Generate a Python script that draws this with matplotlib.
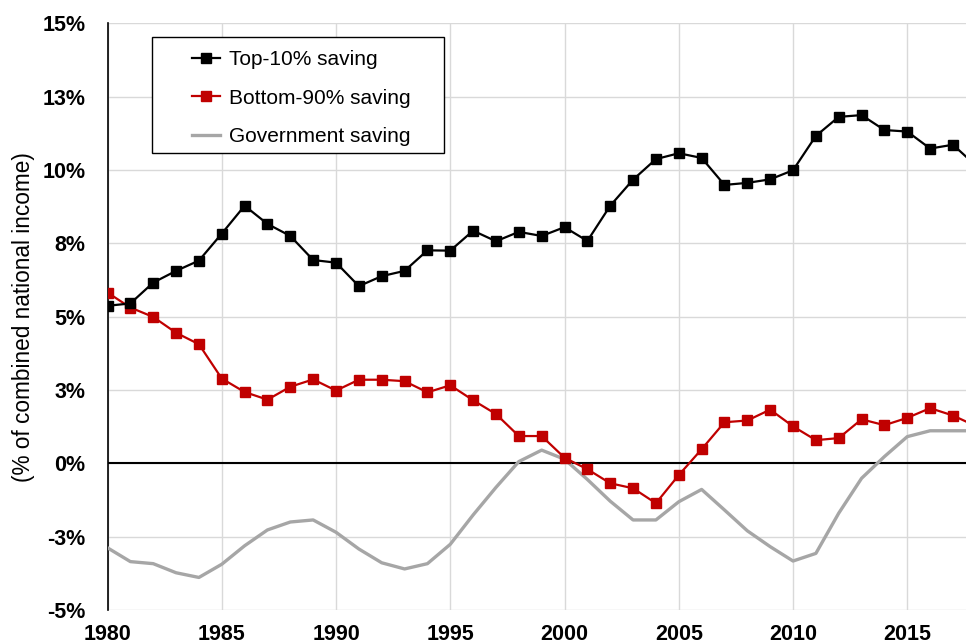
import matplotlib
matplotlib.use("Agg")
import matplotlib.pyplot as plt
from matplotlib.patches import Rectangle

plt.rcParams['font.family'] = ['Liberation Sans', 'DejaVu Sans']

years = list(range(1980, 2019))

top10 = [5.37, 5.45, 6.16, 6.56, 6.91, 7.83, 8.78, 8.16, 7.75, 6.93,
         6.84, 6.04, 6.38, 6.56, 7.26, 7.25, 7.93, 7.57, 7.89, 7.75,
         8.05, 7.58, 8.78, 9.67, 10.37, 10.57, 10.41, 9.49, 9.56, 9.68,
         9.99, 11.16, 11.81, 11.87, 11.36, 11.31, 10.73, 10.86, 10.15]

bottom90 = [5.82, 5.31, 4.99, 4.45, 4.06, 2.89, 2.43, 2.17, 2.61, 2.86,
            2.48, 2.85, 2.85, 2.80, 2.42, 2.66, 2.15, 1.68, 0.93, 0.93,
            0.19, -0.20, -0.68, -0.85, -1.36, -0.40, 0.48, 1.40, 1.46, 1.83,
            1.26, 0.79, 0.86, 1.50, 1.30, 1.55, 1.88, 1.63, 1.27]

government = [-2.88, -3.35, -3.42, -3.73, -3.89, -3.44, -2.81, -2.27, -2.00, -1.93,
              -2.35, -2.92, -3.39, -3.60, -3.42, -2.76, -1.76, -0.82, 0.06, 0.45,
              0.14, -0.55, -1.29, -1.93, -1.93, -1.31, -0.89, -1.59, -2.30, -2.84,
              -3.33, -3.07, -1.70, -0.51, 0.23, 0.91, 1.11, 1.11, 1.11]

ytick_vals = [-5, -2.5, 0, 2.5, 5, 7.5, 10, 12.5, 15]
ytick_labels = ['-5%', '-3%', '0%', '3%', '5%', '8%', '10%', '13%', '15%']
xtick_vals = [1980, 1985, 1990, 1995, 2000, 2005, 2010, 2015]

fig = plt.figure(figsize=(9.66, 6.43), dpi=100)
ax = fig.add_axes([0.1113, 0.0513, 0.8887, 0.9125])

ax.plot(years, government, color='#A6A6A6', lw=2.4, label='Government saving', zorder=3)
ax.plot(years, bottom90, color='#C00000', lw=1.6, marker='s', ms=7.5,
        label='Bottom-90% saving', zorder=4)
ax.plot(years, top10, color='black', lw=1.6, marker='s', ms=7.5,
        label='Top-10% saving', zorder=5)

ax.axhline(0, color='black', lw=1.5, zorder=2)

ax.set_xlim(1980, 2017.57)
ax.set_ylim(-5, 15)
ax.set_xticks(xtick_vals)
ax.set_xticklabels([str(y) for y in xtick_vals], fontsize=15.5, fontweight='bold')
ax.set_yticks(ytick_vals)
ax.set_yticklabels(ytick_labels, fontsize=15.5, fontweight='bold')
ax.tick_params(axis='y', length=0, pad=16)
ax.tick_params(axis='x', length=0, pad=10)

ax.grid(True, color='#D9D9D9', lw=1.0, zorder=0)
ax.set_axisbelow(True)
for s in ['top', 'right', 'bottom']:
    ax.spines[s].set_visible(False)
ax.spines['left'].set_color('black')
ax.spines['left'].set_linewidth(1.2)

ax.set_ylabel('(% of combined national income)', fontsize=16.3)
ax.yaxis.label.set_verticalalignment('center')
ax.yaxis.set_label_coords(-0.098, 0.5)

# legend frame
frame = Rectangle((0.0518, 0.779), 0.3402, 0.1977, transform=ax.transAxes,
                  facecolor='white', edgecolor='black', lw=1.0, zorder=9)
ax.add_patch(frame)

handles, labels = ax.get_legend_handles_labels()
order = [2, 1, 0]
leg = ax.legend([handles[i] for i in order], [labels[i] for i in order],
                loc='center left', bbox_to_anchor=(0.0984, 0.8725), fontsize=15,
                frameon=False, handlelength=1.35, labelspacing=0.95, borderpad=0,
                handletextpad=0.45, borderaxespad=0)
leg.set_zorder(10)

fig.savefig('out.png', dpi=100)
